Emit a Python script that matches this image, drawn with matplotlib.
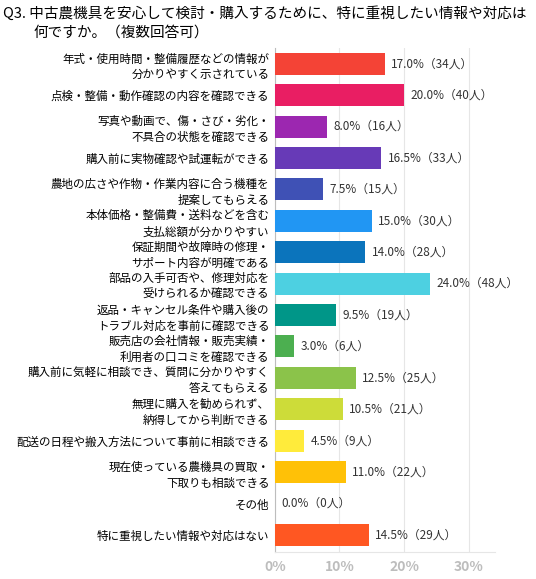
import matplotlib
matplotlib.use("Agg")
import matplotlib.pyplot as plt

plt.rcParams['font.family'] = ['Noto Sans CJK JP', 'DejaVu Sans']

labels = [
    "年式・使用時間・整備履歴などの情報が\n分かりやすく示されている",
    "点検・整備・動作確認の内容を確認できる",
    "写真や動画で、傷・さび・劣化・\n不具合の状態を確認できる",
    "購入前に実物確認や試運転ができる",
    "農地の広さや作物・作業内容に合う機種を\n提案してもらえる",
    "本体価格・整備費・送料などを含む\n支払総額が分かりやすい",
    "保証期間や故障時の修理・\nサポート内容が明確である",
    "部品の入手可否や、修理対応を\n受けられるか確認できる",
    "返品・キャンセル条件や購入後の\nトラブル対応を事前に確認できる",
    "販売店の会社情報・販売実績・\n利用者の口コミを確認できる",
    "購入前に気軽に相談でき、質問に分かりやすく\n答えてもらえる",
    "無理に購入を勧められず、\n納得してから判断できる",
    "配送の日程や搬入方法について事前に相談できる",
    "現在使っている農機具の買取・\n下取りも相談できる",
    "その他",
    "特に重視したい情報や対応はない",
]
percent = [17.0, 20.0, 8.0, 16.5, 7.5, 15.0, 14.0, 24.0, 9.5, 3.0, 12.5, 10.5, 4.5, 11.0, 0.0, 14.5]
people = [34, 40, 16, 33, 15, 30, 28, 48, 19, 6, 25, 21, 9, 22, 0, 29]
colors = ["#F44336", "#E91E63", "#9C27B0", "#673AB7", "#3F51B5", "#2196F3", "#0B74BC",
          "#4DD0E1", "#009688", "#4CAF50", "#8BC34A", "#CDDC39", "#FFEB3B", "#FFC107",
          "#9E9E9E", "#FF5722"]
ticks = [0, 10, 20, 30]

fig = plt.figure(figsize=(5.36, 5.79), dpi=100)
ax = fig.add_axes([0.513, 0.047, 0.4105, 0.87])

y = list(range(len(labels)))
ax.barh(y, percent, height=0.7, color=colors, zorder=3)
for i, (p, n) in enumerate(zip(percent, people)):
    ax.text(p + 1.0, i, f"{p:.1f}%（{n}人）", va='center', ha='left', fontsize=8.5, color='#333333')

ax.set_yticks(y)
ax.set_yticklabels(labels, fontsize=8.3, linespacing=1.3)
ax.set_ylim(len(labels) - 0.46, -0.5)
ax.set_xlim(0, 34.1)
ax.set_xticks(ticks)
ax.set_xticklabels([f"{t}%" for t in ticks], fontsize=10, fontweight='bold', color='#BDBDBD')
ax.tick_params(axis='y', length=0, pad=4)
ax.tick_params(axis='x', length=0, pad=6)
ax.grid(axis='x', color='#E6E6E6', linewidth=0.8, zorder=0)
for s in ['top', 'right']:
    ax.spines[s].set_visible(False)
ax.spines['left'].set_color('#BDBDBD')
ax.spines['bottom'].set_color('#E6E6E6')

fig.text(0.006, 0.976, "Q3. 中古農機具を安心して検討・購入するために、特に重視したい情報や対応は",
         fontsize=10.5, va='center', ha='left')
fig.text(0.062, 0.943, "何ですか。（複数回答可）", fontsize=10.5, va='center', ha='left')

fig.savefig("out.png", dpi=100)
